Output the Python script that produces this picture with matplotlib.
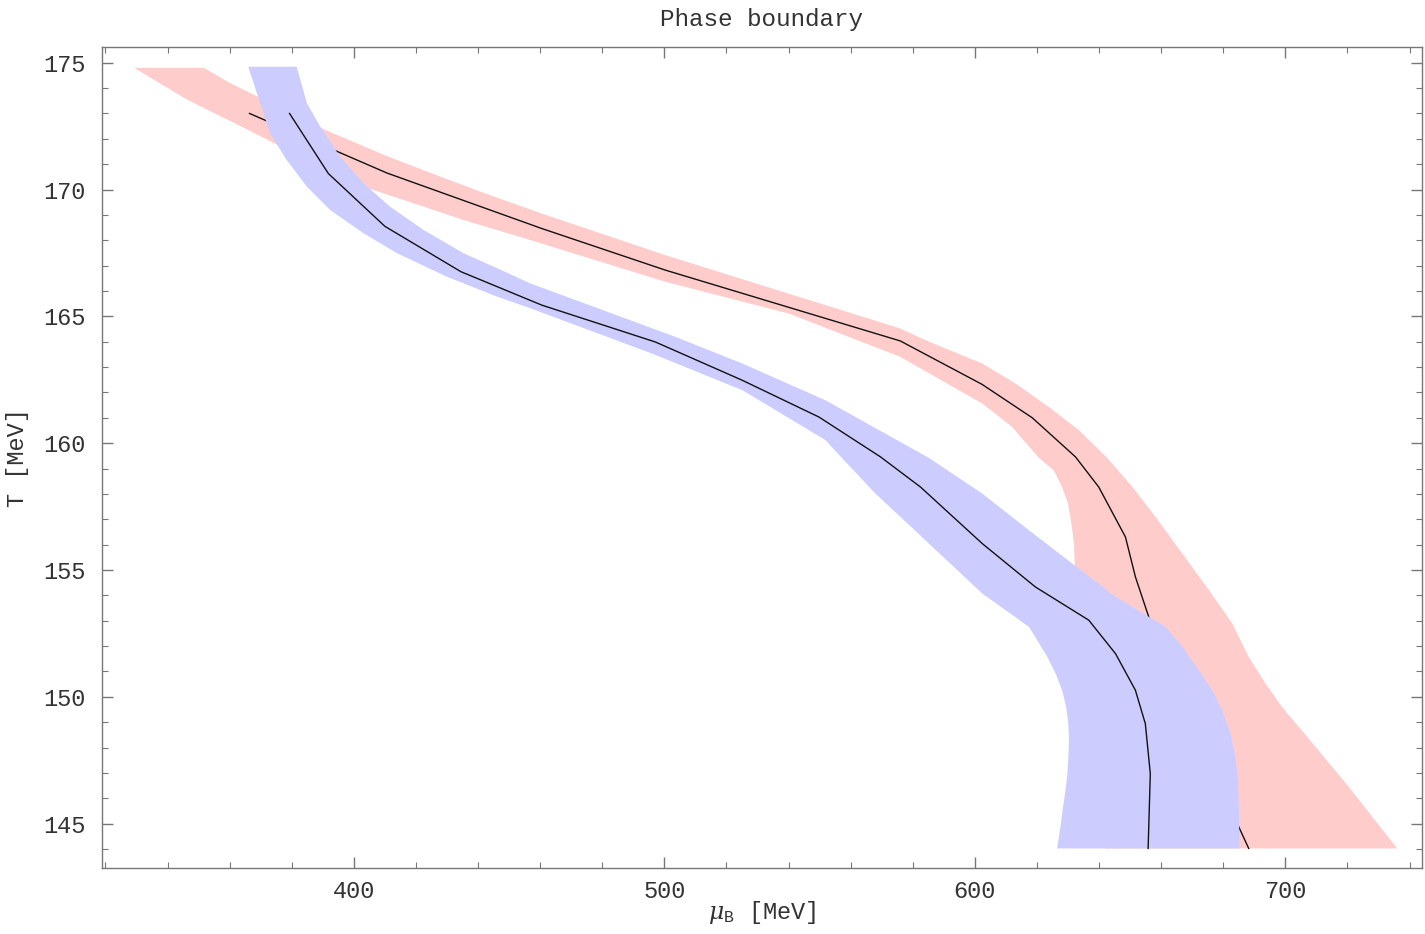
import matplotlib
matplotlib.use("Agg")
import matplotlib.pyplot as plt
from matplotlib.ticker import MultipleLocator

plt.rcParams['font.family'] = ['Liberation Mono', 'DejaVu Sans Mono']
plt.rcParams['mathtext.fontset'] = 'custom'
plt.rcParams['mathtext.rm'] = 'Liberation Mono'
plt.rcParams['mathtext.it'] = 'DejaVu Serif:italic'

# red band (edges) and its central line
red_left_T = [174.80, 174.37, 173.98, 173.58, 173.25, 172.60, 171.74, 170.11, 169.46,
              168.80, 168.01, 166.36, 165.11, 163.40, 161.56, 160.64, 159.42, 158.93,
              158.27, 157.62, 156.83, 156.04, 155.12, 153.0, 150.0, 147.0, 144.02]
red_left_mu = [329.3, 335.0, 340.4, 345.8, 351.1, 361.9, 375.8, 403.1, 419.2,
               435.3, 456.8, 500.4, 540.1, 576.0, 602.4, 612.0, 620.6, 625.4,
               628.1, 630.0, 631.1, 631.9, 632.2, 634.0, 637.0, 640.0, 642.0]
red_right_T = [174.80, 174.19, 173.71, 172.35, 171.35, 170.62, 169.88, 169.05, 167.41,
               164.52, 164.06, 163.14, 162.35, 161.43, 160.51, 159.42, 158.28, 157.09,
               155.65, 154.20, 152.89, 152.36, 151.57, 150.52, 149.60, 148.03, 146.45,
               144.02]
red_right_mu = [351.7, 360.2, 368.3, 390.8, 410.0, 425.5, 441.5, 460.6, 500.4,
                576.0, 584.1, 602.4, 613.1, 623.8, 633.5, 642.6, 650.7, 658.2,
                666.8, 675.4, 682.9, 685.0, 688.2, 693.6, 698.9, 709.7, 720.4,
                736.0]
red_T = [173.0, 170.65, 168.46, 166.82, 164.03, 162.32, 161.0, 159.46, 158.27,
         156.30, 154.73, 153.15, 144.87, 144.02]
red_mu = [366.4, 410.7, 460.6, 500.4, 576.0, 602.3, 618.5, 632.4, 639.9,
          648.5, 651.7, 656.0, 685.0, 688.2]

# blue band (edges) and its central line
blue_left_T = [174.84, 173.79, 172.22, 171.16, 170.11, 169.19, 168.28, 167.49, 166.56,
               165.78, 165.32, 163.53, 162.09, 160.12, 159.44, 158.01, 156.17,
               154.07, 152.76, 152.23, 151.58, 150.92, 150.26, 149.60, 148.95, 148.29,
               147.63, 146.97, 146.32, 145.66, 145.00, 144.02]
blue_left_mu = [366.0, 368.8, 373.0, 378.4, 384.9, 392.4, 403.1, 413.9, 430.0,
                446.1, 456.8, 496.1, 525.1, 551.9, 557.0, 568.0, 584.1,
                602.4, 617.4, 620.1, 623.3, 626.0, 628.1, 629.4, 630.1, 630.3,
                630.1, 629.8, 629.2, 628.4, 627.7, 626.5]
blue_right_T = [174.84, 173.40, 172.48, 171.29, 170.25, 169.32, 168.41, 167.49, 166.90,
                166.30, 164.19, 163.14, 161.69, 159.42, 158.01, 156.57, 155.25, 153.94,
                152.76, 151.97, 151.05, 150.26, 149.47, 148.55, 147.63, 146.71, 145.66,
                144.02]
blue_right_mu = [381.6, 384.9, 389.2, 395.6, 403.1, 411.7, 422.4, 435.3, 446.1,
                 456.8, 503.6, 525.1, 551.9, 585.2, 602.4, 617.4, 631.4, 645.3,
                 661.4, 666.8, 672.1, 676.4, 679.6, 682.3, 683.9, 684.7, 685.0,
                 685.2]
blue_T = [173.0, 170.63, 168.55, 166.76, 165.44, 163.99, 162.48, 161.03, 159.46,
          158.27, 156.04, 154.33, 153.02, 151.70, 150.26, 148.94, 146.97, 144.02]
blue_mu = [379.3, 391.8, 410.0, 434.5, 460.6, 497.1, 525.1, 549.8, 569.6,
           582.5, 602.4, 619.5, 636.7, 645.3, 651.7, 654.9, 656.5, 655.8]

text_col = '#333333'
axis_col = '#777777'

fig = plt.figure(figsize=(14.25, 9.34), dpi=100)
ax = fig.add_axes([102/1425, 1 - 868/934, 1320/1425, 821/934])

## bands are closed polygons: left edge down, right edge back up
ax.fill(red_left_mu + red_right_mu[::-1], red_left_T + red_right_T[::-1],
        color='#ffcccc', lw=0, zorder=1)
ax.plot(red_mu, red_T, color='#111111', lw=1.0, zorder=2)
ax.fill(blue_left_mu + blue_right_mu[::-1], blue_left_T + blue_right_T[::-1],
        color='#ccccff', lw=0, zorder=3)
ax.plot(blue_mu, blue_T, color='#111111', lw=1.0, zorder=4)

ax.set_xlim(318.9, 744.0)
ax.set_ylim(143.25, 175.62)
ax.xaxis.set_major_locator(MultipleLocator(100))
ax.xaxis.set_minor_locator(MultipleLocator(20))
ax.yaxis.set_major_locator(MultipleLocator(5))
ax.yaxis.set_minor_locator(MultipleLocator(1))
ax.tick_params(which='both', direction='in', top=True, right=True,
               color=axis_col, labelcolor=text_col, labelsize=17)
ax.tick_params(axis='x', which='both', pad=9)
ax.tick_params(axis='y', which='both', pad=12)
ax.tick_params(which='major', length=8, width=1)
ax.tick_params(which='minor', length=4, width=0.8)
for s in ax.spines.values():
    s.set_color(axis_col)
    s.set_linewidth(1.0)
    s.set_zorder(5)

ax.set_title('Phase boundary', fontsize=17.5, color=text_col, pad=15)
ax.set_xlabel(r'$\mu_\mathrm{B}$ [MeV]', fontsize=17, color=text_col, labelpad=-3)
ax.set_ylabel('T [MeV]', fontsize=17, color=text_col, labelpad=10)

fig.savefig('out.png', dpi=100)
